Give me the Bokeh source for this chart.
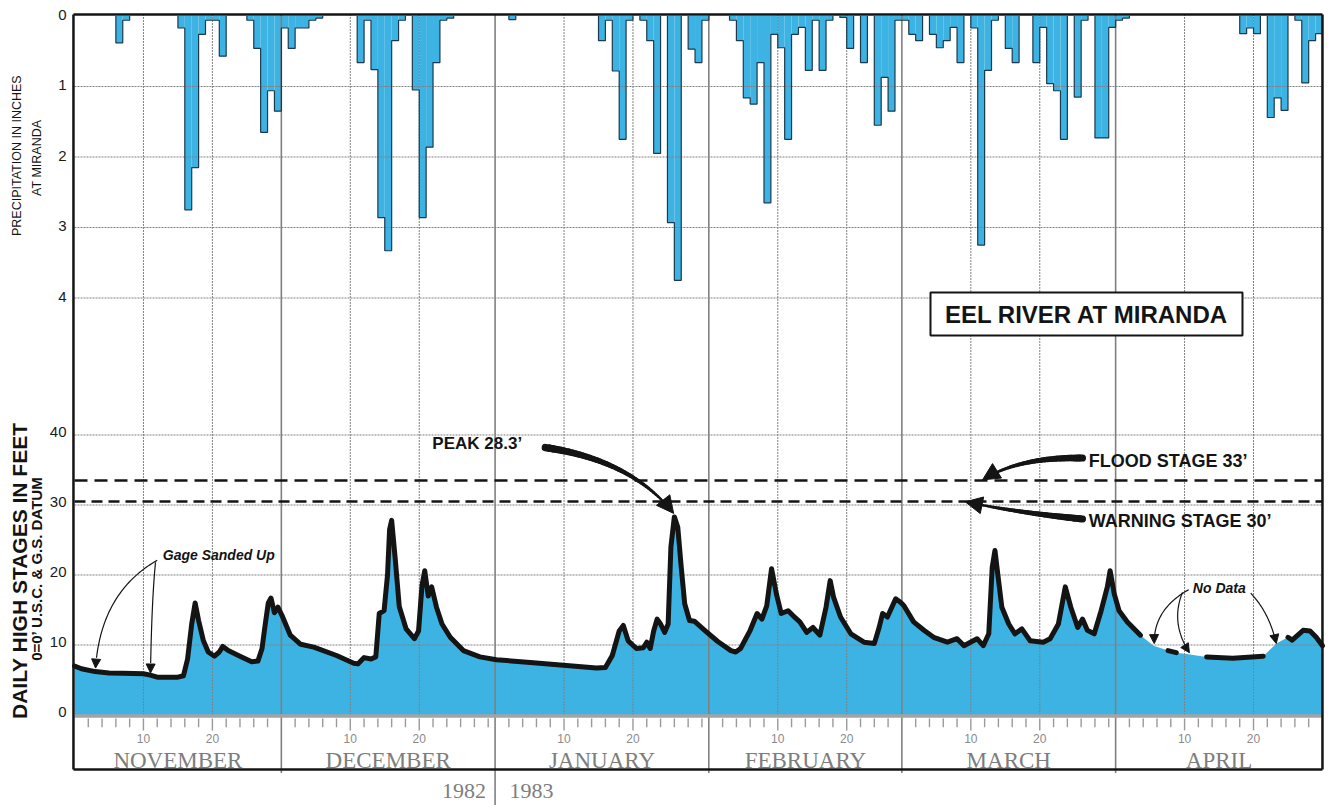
import numpy as np
from math import pi
from bokeh.plotting import figure
from bokeh.models import Range1d, Arrow, NormalHead
from bokeh.embed import file_html
from bokeh.resources import INLINE
from bokeh.core.properties import value

# ---------------- data ----------------
months = ["NOVEMBER", "DECEMBER", "JANUARY", "FEBRUARY", "MARCH", "APRIL"]
month_days = [30, 31, 31, 28, 31, 30]
day_labels = ["10", "20"]
precip_ticks = [0, 1, 2, 3, 4]
stage_ticks = [0, 10, 20, 30, 40]

# daily precipitation (inches), Nov 1 1982 .. Apr 30 1983
precip = [
    0, 0, 0, 0, 0, 0, 0.38, 0.06, 0, 0,
    0, 0, 0, 0, 0, 0.17, 2.75, 2.15, 0.26, 0.06,
    0.06, 0.57, 0, 0, 0, 0.06, 0.46, 1.65, 1.06, 1.35,
    0.17, 0.46, 0.17, 0.17, 0.06, 0.03, 0, 0, 0, 0,
    0, 0.66, 0.06, 0.76, 2.86, 3.33, 0.35, 0.06, 0, 1.05,
    2.86, 1.86, 0.66, 0.06, 0.03, 0, 0, 0, 0, 0,
    0, 0, 0, 0.05, 0, 0, 0, 0, 0, 0,
    0, 0, 0, 0, 0, 0, 0.35, 0.06, 0.78, 1.75,
    0.06, 0, 0.06, 0.35, 1.95, 0, 2.93, 3.75, 0, 0.47,
    0.66, 0.06, 0, 0, 0, 0.06, 0.35, 1.16, 1.25, 0.66,
    2.65, 0.26, 0.45, 1.75, 0.26, 0.16, 0.77, 0.06, 0.77, 0.06,
    0, 0.02, 0.46, 0, 0.66, 0, 1.55, 0.87, 1.35, 0.06,
    0.06, 0.26, 0.35, 0, 0.26, 0.45, 0.35, 0.16, 0.66, 0,
    0.17, 3.25, 0.77, 0.06, 0, 0.46, 0.66, 0, 0, 0.66,
    0.16, 0.96, 1.06, 1.75, 0, 1.15, 0.06, 0, 1.73, 1.73,
    0.16, 0.06, 0.03, 0, 0, 0, 0, 0, 0, 0,
    0, 0, 0, 0, 0, 0, 0, 0, 0, 0.25,
    0.17, 0.25, 0, 1.44, 1.16, 1.34, 0, 0.06, 0.95, 0.35,
    0.25,
]

# daily high stage (feet), day offset from Nov 1
stage_day = [
    0, 1, 3, 5, 7, 10, 11, 12, 15, 15.8, 16.4, 17, 17.5, 18, 18.7, 19.4, 20.3, 21, 21.5, 22.3,
    24, 25.7, 26.6, 27.2, 27.6, 28.1, 28.5, 29.0, 29.5, 30.1, 31.3, 32.8, 34.7, 38, 40.5, 41.1,
    42.0, 43.0, 43.7, 44.2, 44.9, 45.4, 45.7, 46.0, 46.5, 47.1, 48.1, 49.3, 49.9, 50.4, 50.8,
    51.3, 51.8, 52.5, 53.3, 54.5, 56.4, 58.8, 61.2, 66.1, 70.9, 75.7, 77.0, 78.0, 79.0, 79.6,
    80.3, 81.5, 82.5, 83.0, 83.5, 84.0, 84.5, 85.0, 85.6, 86.1, 86.5, 87.0, 87.5, 88.0, 88.5,
    89.2, 89.9, 91.4, 93.3, 95.2, 95.9, 96.6, 98.0, 99.0, 99.7, 100.4, 101.1, 101.8, 102.5,
    103.5, 104.2, 105.2, 106.2, 107.1, 108.1, 109.0, 109.6, 110.1, 111.1, 112.6, 114.5, 116.0,
    116.7, 117.2, 117.9, 119.1, 119.8, 120.3, 121.7, 123.2, 124.6, 126.6, 128.0, 129.0, 130.9,
    131.8, 132.6, 133.1, 133.5, 133.9, 134.5, 135.5, 136.4, 137.4, 138.6, 140.5, 141.5, 142.7,
    143.7, 144.5, 145.5, 146.2, 146.9, 147.9, 148.9, 149.8, 150.2, 150.8, 151.5, 152.7, 154.6,
    156.5, 158.6, 159.8, 161.3, 164.2, 168.0, 172.4, 174.3, 176.0, 176.6, 178.2, 179.2, 180.1,
    181.0,
]
stage_ft = [
    7.0, 6.6, 6.2, 6.0, 5.95, 5.9, 5.7, 5.4, 5.4, 5.6, 8.0, 13.0, 16.0, 13.5, 10.6, 9.0, 8.4, 9.0, 9.8, 9.2,
    8.4, 7.6, 7.7, 9.5, 12.5, 16.0, 16.7, 14.6, 15.4, 14.2, 11.4, 10.1, 9.7, 8.5, 7.4, 7.3,
    8.2, 8.0, 8.3, 14.5, 14.9, 20.0, 26.5, 27.8, 22.5, 15.5, 12.3, 10.9, 12.0, 18.5, 20.6,
    17.0, 18.3, 15.4, 13.0, 11.1, 9.2, 8.3, 7.9, 7.5, 7.1, 6.7, 6.8, 8.5, 12.0, 12.8,
    10.6, 9.5, 9.6, 10.4, 9.5, 12.0, 13.7, 13.0, 11.8, 13.0, 24.0, 28.3, 26.8, 21.1, 15.9,
    13.5, 13.4, 12.1, 10.5, 9.2, 9.0, 9.5, 12.1, 14.5, 13.7, 15.6, 20.9, 17.3, 14.5,
    14.9, 14.2, 13.3, 11.8, 12.5, 11.4, 15.4, 19.2, 16.8, 14.0, 11.6, 10.4, 10.2,
    12.5, 14.5, 14.0, 16.6, 16.1, 15.6, 13.3, 12.1, 11.1, 10.4, 10.9, 9.9, 10.9,
    9.9, 11.6, 21.1, 23.5, 20.2, 15.4, 13.0, 11.6, 12.3, 10.6, 10.4, 10.9, 13.0,
    18.3, 15.4, 12.5, 13.7, 12.1, 11.6, 14.9, 18.3, 20.6, 17.3, 14.9, 13.3, 11.4,
    9.9, 9.2, 8.9, 8.7, 8.3, 8.1, 8.4, 10.2, 11.1, 10.7, 12.1, 12.0, 11.1,
    9.9,
]
assert len(stage_day) == len(stage_ft)
no_data = [(154.7, 158.5), (159.9, 164.1), (172.5, 175.9)]

peak_stage = 28.3
flood_stage, flood_line = 33, 33.5
warning_stage, warning_line = 30, 30.5

# ---------------- figure ----------------
BLUE = "#3db3e3"
INK = "#141414"
GRID = "#808080"
SANS = "Liberation Sans"
SERIF = "Liberation Serif"

n_days = len(precip)
month_start = [0]
for d in month_days[:-1]:
    month_start.append(month_start[-1] + d)

p = figure(width=1331, height=805,
           x_range=Range1d(-10.732, 182.31), y_range=Range1d(-12.929, 102.071),
           output_backend="svg", toolbar_location=None,
           x_axis_location=None, y_axis_location=None,
           min_border_left=0, min_border_right=0, min_border_top=0, min_border_bottom=0,
           background_fill_color="white", border_fill_color="white",
           outline_line_color=None)
p.extra_y_ranges = {"precip": Range1d(start=11.199, end=-0.2199)}
p.grid.visible = False

# precipitation bars
days = np.arange(n_days)
pr = np.array(precip, dtype=float)
wet = pr > 0
p.quad(left=days[wet], right=days[wet] + 1, top=0, bottom=pr[wet],
       y_range_name="precip", fill_color=BLUE, line_color=None)

# stage fill
p.varea(x=stage_day, y1=0, y2=stage_ft, fill_color=BLUE)

# grid lines
gx0, gx1 = 0, n_days
for v in stage_ticks[1:]:
    p.segment(x0=gx0, y0=v, x1=gx1, y1=v, line_color=GRID, line_width=1, line_dash="2 1")
for v in precip_ticks[1:]:
    p.segment(x0=gx0, y0=v, x1=gx1, y1=v, line_color=GRID, line_width=1, line_dash="2 1",
              y_range_name="precip")
minor_x = [ms + 10 for ms in month_start] + [ms + 20 for ms in month_start]
p.segment(x0=minor_x, y0=0, x1=minor_x, y1=100.07, line_color=GRID, line_width=1, line_dash="2 1")
bounds_x = month_start[1:]
bottom_ext = [-8.3 if m != 61 else -12.9 for m in bounds_x]
p.segment(x0=bounds_x, y0=bottom_ext, x1=bounds_x, y1=100.07, line_color="#808080", line_width=1.6)

# precipitation outlines (step profile)
xs, ys = [], []
i = 0
while i < n_days:
    if precip[i] > 0:
        s = i
        while i < n_days and precip[i] > 0:
            i += 1
        px, py = [s], [0]
        for d in range(s, i):
            px += [d, d + 1]
            py += [precip[d], precip[d]]
        px.append(i)
        py.append(0)
        xs.append(px)
        ys.append(py)
    else:
        i += 1
p.multi_line(xs, ys, y_range_name="precip", line_color="#1b3a4e", line_width=1.2)

# baseline band and day ticks
p.segment(x0=0, y0=-0.15, x1=n_days, y1=-0.15, line_color="#a3a3a3", line_width=3.5)
tick_x, tick_y1 = [], []
for ms, md in zip(month_start, month_days):
    for k in range(2, md, 2):
        tick_x.append(ms + k)
        tick_y1.append(-2.2 if k in (10, 20) else -1.75)
p.segment(x0=tick_x, y0=-0.5, x1=tick_x, y1=tick_y1, line_color="#9a9a9a", line_width=1.4)

lab_x, lab_t = [], []
for ms in month_start:
    for lab in day_labels:
        lab_x.append(ms + int(lab))
        lab_t.append(lab)
p.text(x=lab_x, y=-3.4, text=lab_t, text_align="center", text_baseline="middle",
       text_font=value(SANS), text_font_size="12px", text_color="#8a8a8a")
p.text(x=[ms + md / 2 for ms, md in zip(month_start, month_days)], y=-6.55, text=months,
       text_align="center", text_baseline="middle", text_font=value(SERIF),
       text_font_size="23px", text_color="#7d7d7d")
p.text(x=[59.7], y=-10.8, text=["1982"], text_align="right", text_baseline="middle",
       text_font=value(SERIF), text_font_size="22px", text_color="#7d7d7d")
p.text(x=[63.1], y=-10.8, text=["1983"], text_align="left", text_baseline="middle",
       text_font=value(SERIF), text_font_size="22px", text_color="#7d7d7d")

# flood / warning stage lines
p.segment(x0=0, y0=flood_line, x1=n_days, y1=flood_line, line_color=INK, line_width=2.4, line_dash="13 7")
p.segment(x0=0, y0=warning_line, x1=n_days, y1=warning_line, line_color=INK, line_width=2.4, line_dash="11 6")

# stage line (broken where no data)
line_y = []
for d, v in zip(stage_day, stage_ft):
    gap = any(a < d < b for a, b in no_data)
    line_y.append(float("nan") if gap else v)
p.line(stage_day, line_y, line_color=INK, line_width=5, line_join="round", line_cap="round")

# frame border
L, R, T, B = -0.15, 181.0, 100.07, -7.79
p.segment(x0=[L, L, R, L], y0=[B, T, B, B], x1=[L, R, R, R], y1=[T, T, T, B],
          line_color=INK, line_width=2.5)

# ---------------- annotations ----------------
def qcurve(p0, c, p2, n=40, s_end=1.0):
    s = np.linspace(0, s_end, n)
    x = (1 - s) ** 2 * p0[0] + 2 * (1 - s) * s * c[0] + s ** 2 * p2[0]
    y = (1 - s) ** 2 * p0[1] + 2 * (1 - s) * s * c[1] + s ** 2 * p2[1]
    return x, y

def head(c, p2, size):
    sx = p2[0] - 0.12 * (p2[0] - c[0])
    sy = p2[1] - 0.12 * (p2[1] - c[1])
    p.add_layout(Arrow(end=NormalHead(size=size, fill_color=INK, line_color=INK, line_width=1),
                       x_start=sx, y_start=sy, x_end=p2[0], y_end=p2[1],
                       line_alpha=0, line_width=0))

def thick_arrow(p0, c, p2, w0, w1):
    x, y = qcurve(p0, c, p2, n=40, s_end=0.9)
    p.segment(x0=x[:-1], y0=y[:-1], x1=x[1:], y1=y[1:],
              line_width=list(np.linspace(w0, w1, len(x) - 1)), line_color=INK, line_cap="round")
    head(c, p2, 17)

def thin_arrow(p0, c, p2):
    x, y = qcurve(p0, c, p2, n=40, s_end=0.93)
    p.line(x, y, line_color=INK, line_width=1.2)
    head(c, p2, 9)

thick_arrow((68.3, 38.2), (80.8, 36.4), (86.9, 28.8), 7.5, 2.2)
thick_arrow((146.2, 36.7), (137.1, 36.9), (131.7, 33.6), 7.0, 2.0)
thick_arrow((146.2, 28.0), (136.8, 28.9), (129.2, 30.45), 7.0, 2.0)
thin_arrow((12.0, 22.1), (3.8, 17.5), (3.05, 6.7))
thin_arrow((11.75, 21.8), (11.2, 16.4), (11.02, 6.0))
thin_arrow((161.6, 17.9), (156.5, 15.1), (156.6, 10.2))
thin_arrow((160.7, 17.5), (158.9, 13.2), (161.7, 8.9))
thin_arrow((170.6, 17.4), (173.3, 14.6), (174.3, 10.2))

def txt(x, y, text, size, style="bold", align="left", angle=0.0, font=SANS, color=INK,
        y_range_name="default", y_offset=0):
    p.text(x=[x], y=[y], text=[text], text_font=value(font), text_font_size=size,
           text_font_style=style, text_color=color, text_align=align,
           text_baseline="middle", angle=angle, y_range_name=y_range_name, y_offset=y_offset)

txt(51.9, 38.8, f"PEAK {peak_stage}\u2019", "17px")
txt(147.1, 36.3, f"FLOOD STAGE {flood_stage}\u2019", "18px")
txt(147.1, 27.7, f"WARNING STAGE {warning_stage}\u2019", "18px")
txt(12.8, 22.8, "Gage Sanded Up", "14px", style="bold italic")
txt(162.2, 18.2, "No Data", "14px", style="bold italic")

# title box
p.quad(left=[124.15], right=[169.4], top=[60.36], bottom=[54.21],
       fill_color="white", line_color=INK, line_width=2)
txt(146.8, 57.25, "EEL RIVER AT MIRANDA", "24px", align="center")

# tick labels (left)
for v in precip_ticks:
    txt(-1.16, v, str(v), "15px", style="normal", align="right", color="#1a1a1a",
        y_range_name="precip", y_offset=-1)
for v in stage_ticks:
    txt(-1.16, v, str(v), "15px", style="normal", align="right", color="#1a1a1a", y_offset=-3)

# axis titles
txt(-8.27, 79.9, "PRECIPITATION IN INCHES", "12.5px", style="normal", align="center", angle=pi / 2)
txt(-5.5, 79.6, "AT MIRANDA", "12.5px", style="normal", align="center", angle=pi / 2)
txt(-7.98, 20.6, "DAILY HIGH STAGES IN FEET", "21px", align="center", angle=pi / 2)
txt(-5.58, 20.9, "0=0\u2019 U.S.C. & G.S. DATUM", "15px", align="center", angle=pi / 2)

open("out.html", "w").write(file_html(p, INLINE))
